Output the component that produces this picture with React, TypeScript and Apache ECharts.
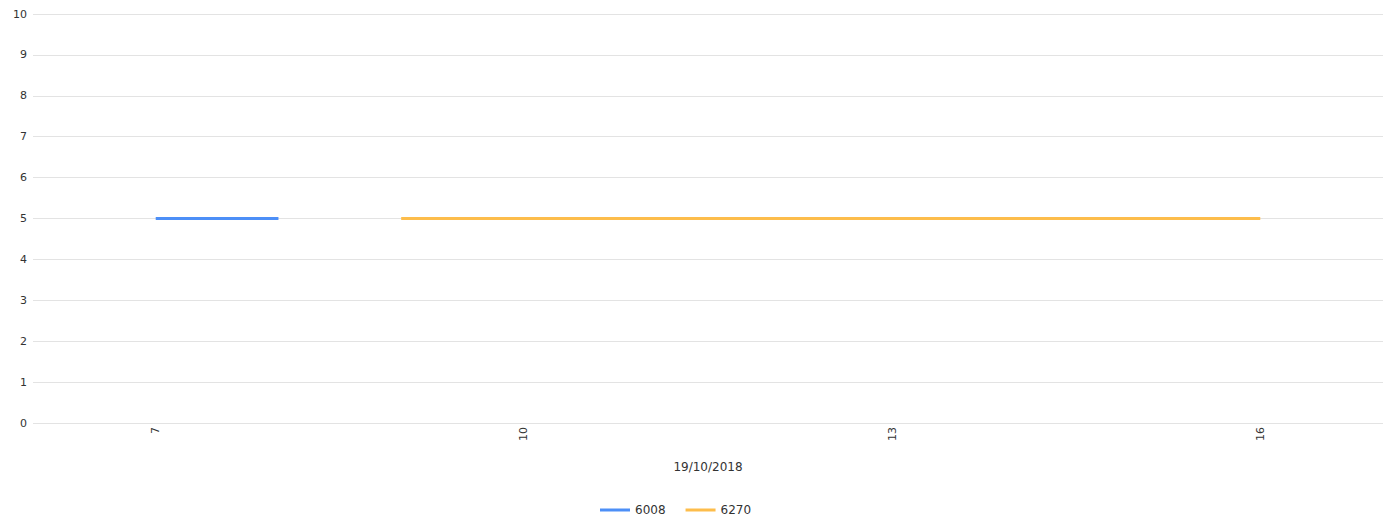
import React, { useEffect, useRef } from "react";
import * as echarts from "echarts";

const categories = ["6", "7", "8", "9", "10", "11", "12", "13", "14", "15", "16", "17"];
const series6008 = [null, 5, 5, null, null, null, null, null, null, null, null, null];
const series6270 = [null, null, null, 5, 5, 5, 5, 5, 5, 5, 5, null];
const seriesNames = ["6008", "6270"];
const axisTitle = "19/10/2018";

export default function App() {
  const ref = useRef<HTMLDivElement>(null);
  useEffect(() => {
    const chart = echarts.init(ref.current!, null, { renderer: "svg" });
    const font = "DejaVu Sans";
    chart.setOption({
      animation: false,
      textStyle: { fontFamily: font },
      grid: { left: 33, right: 7, top: 14, bottom: 97, containLabel: false },
      legend: {
        data: seriesNames,
        left: 595,
        top: 499,
        itemWidth: 30,
        itemHeight: 3,
        itemGap: 20,
        icon: "rect",
        textStyle: { fontFamily: font, fontSize: 12, color: "#333" },
      },
      xAxis: {
        type: "category",
        data: categories,
        boundaryGap: false,
        name: axisTitle,
        nameLocation: "middle",
        nameGap: 38,
        nameTextStyle: { fontFamily: font, fontSize: 12, color: "#333" },
        axisLine: { show: false },
        axisTick: { show: false },
        splitLine: { show: false },
        axisLabel: {
          rotate: 90,
          margin: 4,
          interval: (idx: number) => idx % 3 === 1,
          fontFamily: font,
          fontSize: 11,
          color: "#333",
        },
      },
      yAxis: {
        type: "value",
        min: 0,
        max: 10,
        interval: 1,
        axisLine: { show: false },
        axisTick: { show: false },
        splitLine: { lineStyle: { color: "#e3e3e3", width: 1 } },
        axisLabel: { margin: 6, fontFamily: font, fontSize: 11, color: "#333" },
      },
      series: [
        {
          name: seriesNames[0],
          type: "line",
          data: series6008,
          showSymbol: false,
          symbol: "none",
          lineStyle: { color: "#4D8FF7", width: 3 },
          itemStyle: { color: "#4D8FF7" },
        },
        {
          name: seriesNames[1],
          type: "line",
          data: series6270,
          showSymbol: false,
          symbol: "none",
          lineStyle: { color: "#FDBD4B", width: 3 },
          itemStyle: { color: "#FDBD4B" },
        },
      ],
    });
    return () => chart.dispose();
  }, []);
  return (
    <div
      ref={ref}
      style={{ position: "fixed", left: 0, top: 0, width: 1390, height: 520, background: "#fff" }}
    />
  );
}
